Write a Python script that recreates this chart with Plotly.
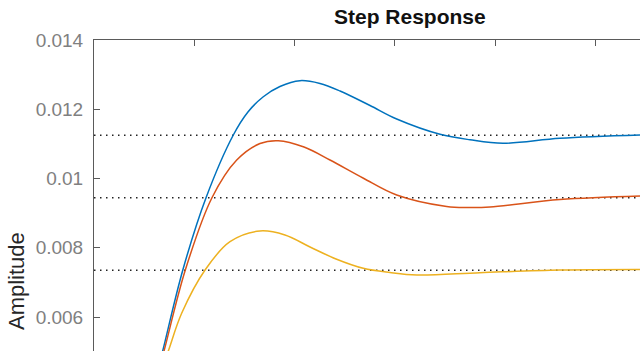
import plotly.graph_objects as go

# time (arbitrary units, one top-axis tick per unit)
t_blue = [0.585, 0.685, 0.887, 1.117, 1.389, 1.535, 1.688, 1.854, 2.054, 2.253, 2.453, 2.752, 3.018, 3.450, 3.749, 4.078, 4.646, 5.444]
y_blue = [0.003863, 0.005018, 0.007372, 0.009445, 0.011256, 0.011921, 0.012362, 0.012657, 0.012825, 0.012744,
          0.012527, 0.012108, 0.011718, 0.011277, 0.011118, 0.011017, 0.011161, 0.011256]

t_red = [0.598, 0.698, 0.912, 1.176, 1.423, 1.655, 1.837, 2.094, 2.353, 2.682, 3.018, 3.516, 3.729, 3.948, 4.646, 5.444]
y_red = [0.003921, 0.005018, 0.007372, 0.009445, 0.010534, 0.011011, 0.011092, 0.010910, 0.010534, 0.010014,
         0.009523, 0.009191, 0.009162, 0.009177, 0.009393, 0.009495]

t_yel = [0.641, 0.741, 0.874, 1.107, 1.356, 1.655, 1.904, 2.154, 2.413, 2.685, 2.951, 3.220, 3.848, 4.646, 5.444]
y_yel = [0.004209, 0.005018, 0.006107, 0.007357, 0.008175, 0.008484, 0.008368, 0.008022, 0.007675, 0.007406,
         0.007285, 0.007213, 0.007279, 0.007357, 0.007372]

steady_values = [0.01125, 0.009442, 0.007353]
x_span = [0, 5.444]
y_ticks = [0.006, 0.008, 0.010, 0.012, 0.014]
y_ticklabels = ["0.006", "0.008", "0.01", "0.012", "0.014"]
x_ticks = [0, 1, 2, 3, 4, 5]

colors = ["#0072BD", "#D95319", "#EDB120"]

fig = go.Figure()
for v in steady_values:
    fig.add_trace(go.Scatter(x=x_span, y=[v, v], mode="lines",
                             line=dict(color="#222222", width=1.5, dash="1.5px,4.5px"),
                             hoverinfo="skip", showlegend=False))

for t, y, c in [(t_blue, y_blue, colors[0]), (t_red, y_red, colors[1]), (t_yel, y_yel, colors[2])]:
    fig.add_trace(go.Scatter(x=t, y=y, mode="lines", line=dict(color=c, width=1.5, shape="spline", smoothing=1.0),
                             showlegend=False))

fig.update_layout(
    width=640, height=351,
    margin=dict(l=94, r=0, t=40, b=0),
    paper_bgcolor="white", plot_bgcolor="white",
    font=dict(family="Liberation Sans, Arial, sans-serif"),
    xaxis=dict(range=x_span, side="top", tickvals=x_ticks, showticklabels=False,
               ticks="inside", ticklen=6, tickcolor="#5a5a5a", showline=True, linecolor="#5a5a5a",
               linewidth=1, showgrid=False, zeroline=False),
    yaxis=dict(range=[0.005018, 0.014], tickvals=y_ticks, ticktext=y_ticklabels,
               ticks="inside", ticklen=6, tickcolor="#5a5a5a", showline=True, linecolor="#5a5a5a",
               linewidth=1, showgrid=False, zeroline=False,
               tickfont=dict(size=19, color="#808080"), ticklabelstandoff=6),
    annotations=[
        dict(text="<b>Step Response</b>", xref="paper", yref="paper", x=0.5788, y=1.074,
             showarrow=False, font=dict(size=21, color="#111111"), xanchor="center", yanchor="middle"),
        dict(text="Amplitude", xref="paper", yref="paper", x=-0.1429, y=0.225, textangle=-90,
             showarrow=False, font=dict(size=22, color="#262626"), xanchor="center", yanchor="middle"),
    ],
)

fig.write_html("out.html")
